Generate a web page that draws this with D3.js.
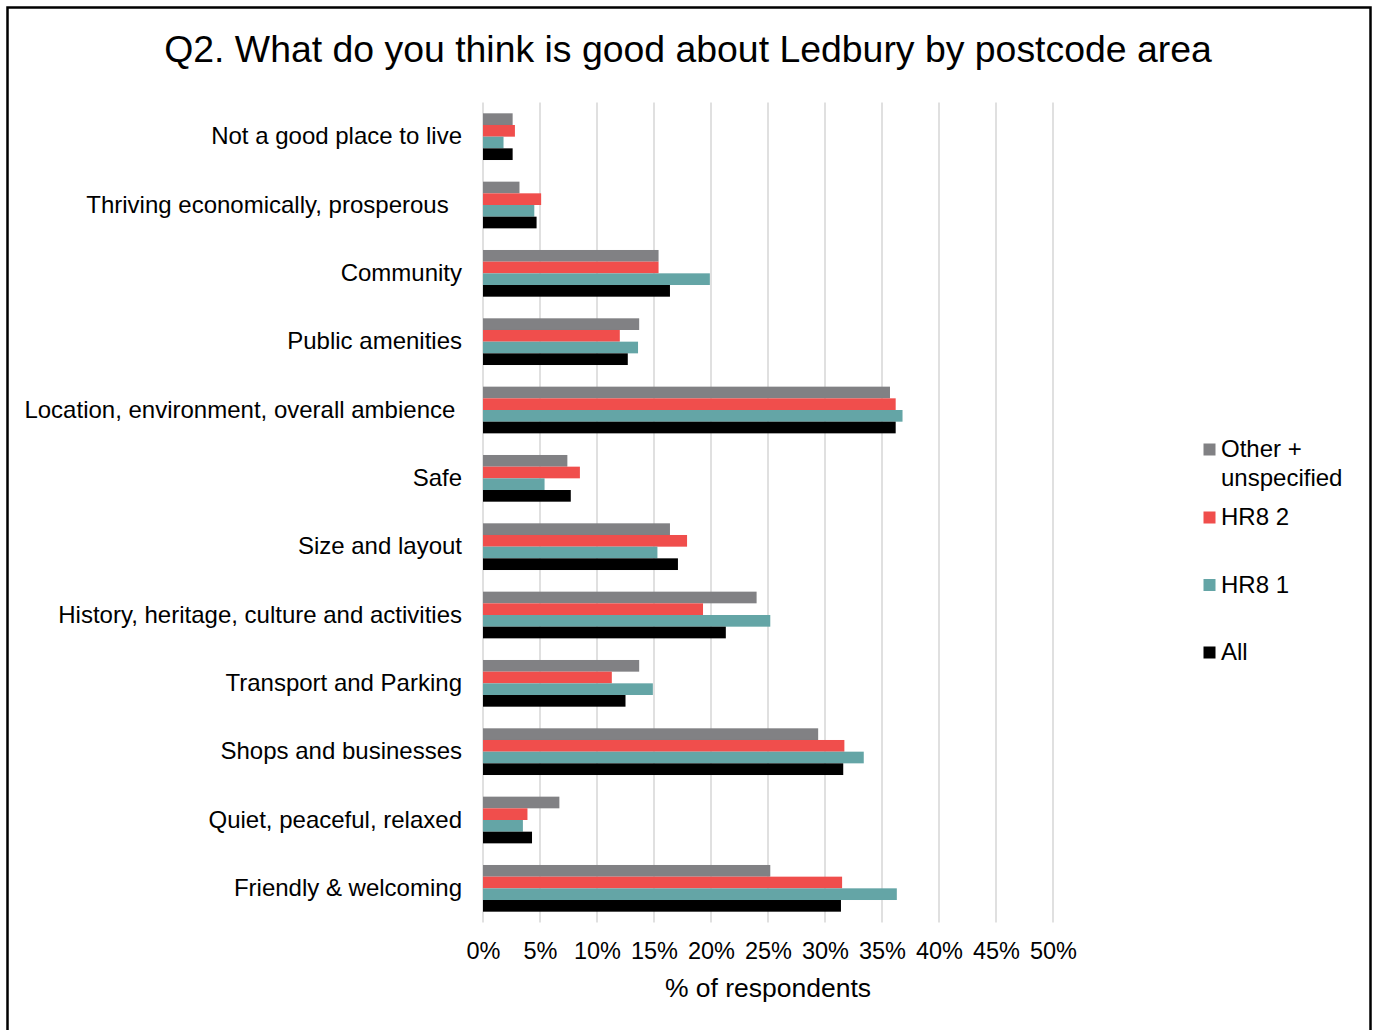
<!DOCTYPE html>
<html>
<head>
<meta charset="utf-8">
<script src="https://cdn.jsdelivr.net/npm/d3@7"></script>
<style>
  html, body { margin: 0; padding: 0; background: #fff; }
  svg { display: block; font-family: "Liberation Sans", Arial, sans-serif; }
</style>
</head>
<body>
<svg id="chart" width="1374" height="1030"></svg>
<script>
// Answer categories, top to bottom (trailing spaces kept as in the survey labels)
const categories = [
  "Not a good place to live",
  "Thriving economically, prosperous  ",
  "Community",
  "Public amenities",
  "Location, environment, overall ambience ",
  "Safe",
  "Size and layout",
  "History, heritage, culture and activities",
  "Transport and Parking",
  "Shops and businesses",
  "Quiet, peaceful, relaxed",
  "Friendly & welcoming"
];

// Series, in the order they appear within each group
const seriesNames = ["Other + unspecified", "HR8 2", "HR8 1", "All"];
const seriesColors = ["#818184", "#F04E4C", "#64A5A6", "#000000"];

// % of respondents per category
const otherUnspecified = [2.6, 3.2, 15.4, 13.7, 35.7, 7.4, 16.4, 24.0, 13.7, 29.4, 6.7, 25.2];
const hr82             = [2.8, 5.1, 15.4, 12.0, 36.2, 8.5, 17.9, 19.3, 11.3, 31.7, 3.9, 31.5];
const hr81             = [1.8, 4.5, 19.9, 13.6, 36.8, 5.4, 15.3, 25.2, 14.9, 33.4, 3.5, 36.3];
const all              = [2.6, 4.7, 16.4, 12.7, 36.2, 7.7, 17.1, 21.3, 12.5, 31.6, 4.3, 31.4];

const xTicks = [0, 5, 10, 15, 20, 25, 30, 35, 40, 45, 50];

const seriesValues = [otherUnspecified, hr82, hr81, all];
const rows = categories.map((c, i) => ({
  category: c,
  values: seriesNames.map((s, j) => ({ series: s, value: seriesValues[j][i] }))
}));

const svg = d3.select("#chart");

// Outer frame
svg.append("rect")
  .attr("x", 7.5).attr("y", 7.5)
  .attr("width", 1363).attr("height", 1040)
  .attr("fill", "none").attr("stroke", "#000").attr("stroke-width", 2.5);

// Title
svg.append("text")
  .attr("x", 688).attr("y", 62)
  .attr("text-anchor", "middle")
  .attr("font-size", 37.4)
  .attr("fill", "#000")
  .text("Q2. What do you think is good about Ledbury by postcode area");

const plotTop = 102.5, plotBottom = 922.5;
const x = d3.scaleLinear().domain([0, 50]).range([483, 1053]);
const y = d3.scaleBand().domain(categories).range([plotTop, plotBottom])
  .paddingInner(0.3166).paddingOuter(0.1583);
const ySub = d3.scaleBand().domain(seriesNames).range([0, y.bandwidth()]).padding(0);
const color = d3.scaleOrdinal().domain(seriesNames).range(seriesColors);

// Vertical gridlines
svg.append("g")
  .selectAll("line")
  .data(xTicks)
  .join("line")
  .attr("x1", d => x(d)).attr("x2", d => x(d))
  .attr("y1", plotTop).attr("y2", plotBottom)
  .attr("stroke", "#d9d9d9").attr("stroke-width", 1.6);

// Bars
const groups = svg.append("g")
  .selectAll("g")
  .data(rows)
  .join("g")
  .attr("transform", d => `translate(0,${y(d.category)})`);

groups.selectAll("rect")
  .data(d => d.values)
  .join("rect")
  .attr("x", x(0))
  .attr("y", d => ySub(d.series))
  .attr("width", d => x(d.value) - x(0))
  .attr("height", ySub.bandwidth())
  .attr("fill", d => color(d.series));

// Category axis (labels only)
const yAxis = svg.append("g")
  .attr("transform", "translate(471,0)")
  .call(d3.axisLeft(y).tickSize(0).tickPadding(9));
yAxis.select(".domain").remove();
yAxis.selectAll("text")
  .attr("font-size", 24)
  .attr("font-family", "Liberation Sans, Arial, sans-serif")
  .attr("fill", "#000")
  .style("white-space", "pre");

// Value axis (tick labels only)
const xAxis = svg.append("g")
  .attr("transform", `translate(0,${plotBottom})`)
  .call(d3.axisBottom(x).tickValues(xTicks).tickFormat(d => d + "%").tickSize(0).tickPadding(20));
xAxis.select(".domain").remove();
xAxis.selectAll("text")
  .attr("font-size", 23.5)
  .attr("font-family", "Liberation Sans, Arial, sans-serif")
  .attr("fill", "#000");

// Axis title
svg.append("text")
  .attr("x", 768).attr("y", 997)
  .attr("text-anchor", "middle")
  .attr("font-size", 26.5)
  .attr("fill", "#000")
  .text("% of respondents");

// Legend
const legendEntries = [
  { name: seriesNames[0], lines: ["Other +", "unspecified"], baseline: 457 },
  { name: seriesNames[1], lines: ["HR8 2"], baseline: 525 },
  { name: seriesNames[2], lines: ["HR8 1"], baseline: 592.5 },
  { name: seriesNames[3], lines: ["All"], baseline: 660 }
];
const legend = svg.append("g");
const item = legend.selectAll("g").data(legendEntries).join("g");
item.append("rect")
  .attr("x", 1203.5).attr("y", d => d.baseline - 13.5)
  .attr("width", 12).attr("height", 12)
  .attr("fill", d => color(d.name));
item.append("text")
  .attr("x", 1221).attr("y", d => d.baseline)
  .attr("font-size", 24)
  .attr("fill", "#000")
  .selectAll("tspan")
  .data(d => d.lines)
  .join("tspan")
  .attr("x", 1221)
  .attr("dy", (d, i) => i === 0 ? 0 : 28.5)
  .text(d => d);
</script>
</body>
</html>
